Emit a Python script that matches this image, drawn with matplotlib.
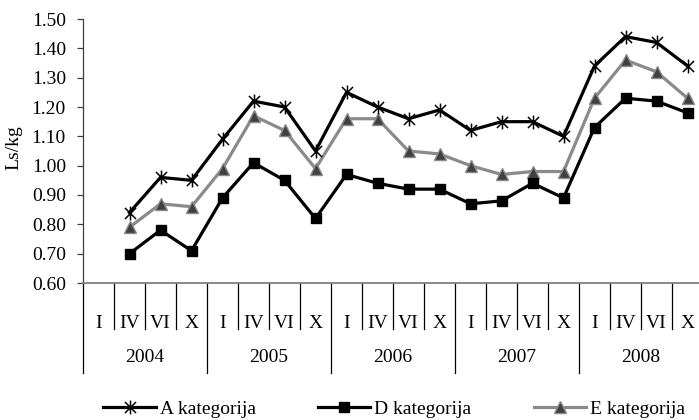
import numpy as np
import matplotlib
matplotlib.use("Agg")
import matplotlib.pyplot as plt
from matplotlib.path import Path
from matplotlib.lines import Line2D
import matplotlib.transforms as mtransforms

plt.rcParams['font.family'] = ['Liberation Serif', 'DejaVu Serif']

years = ['2004', '2005', '2006', '2007', '2008']
months = ['I', 'IV', 'VI', 'X']
nan = np.nan
A_kat = [nan, 0.84, 0.96, 0.95, 1.09, 1.22, 1.20, 1.05, 1.25, 1.20, 1.16, 1.19,
         1.12, 1.15, 1.15, 1.10, 1.34, 1.44, 1.42, 1.34]
D_kat = [nan, 0.70, 0.78, 0.71, 0.89, 1.01, 0.95, 0.82, 0.97, 0.94, 0.92, 0.92,
         0.87, 0.88, 0.94, 0.89, 1.13, 1.23, 1.22, 1.18]
E_kat = [nan, 0.79, 0.87, 0.86, 0.99, 1.17, 1.12, 0.99, 1.16, 1.16, 1.05, 1.04,
         1.00, 0.97, 0.98, 0.98, 1.23, 1.36, 1.32, 1.23]
y_ticks = [0.60, 0.70, 0.80, 0.90, 1.00, 1.10, 1.20, 1.30, 1.40, 1.50]

FS = 14
W, H = 699, 420
fig = plt.figure(figsize=(W / 100, H / 100), dpi=100)
left, right, top, bottom = 83, 703, 19, 283
ax = fig.add_axes([left / W, 1 - bottom / H, (right - left) / W, (bottom - top) / H])

n = len(years) * len(months)
x = np.arange(n) + 0.5

# custom asterisk marker: X plus vertical bar
ast = Path([(-1, -1), (1, 1), (-1, 1), (1, -1), (0, -1.25), (0, 1.25)],
           [Path.MOVETO, Path.LINETO, Path.MOVETO, Path.LINETO, Path.MOVETO, Path.LINETO])

lw = 2.3
lA, = ax.plot(x, A_kat, color='black', lw=lw, marker=ast, markersize=10,
              markeredgewidth=1.1, markerfacecolor='none', markeredgecolor='black',
              label='A kategorija', clip_on=False, zorder=5)
lD, = ax.plot(x, D_kat, color='black', lw=lw, marker='s', markersize=6.5,
              markerfacecolor='black', markeredgecolor='black',
              label='D kategorija', clip_on=False, zorder=4)
lE, = ax.plot(x, E_kat, color='#8a8a8a', lw=lw, marker='^', markersize=8,
              markerfacecolor='#404040', markeredgecolor='#8a8a8a', markeredgewidth=1,
              label='E kategorija', clip_on=False, zorder=3)

ax.set_xlim(0, n)
ax.set_ylim(0.6, 1.5)
ax.set_yticks(y_ticks)
ax.set_yticklabels([f'{v:.2f}' for v in y_ticks], fontsize=FS)
ax.tick_params(axis='y', direction='out', length=4.3, width=0.9, color='#404040', pad=8)
ax.set_xticks([])
for s in ['top', 'right']:
    ax.spines[s].set_visible(False)
ax.spines['left'].set_color('#404040')
ax.spines['left'].set_linewidth(0.9)
ax.spines['bottom'].set_color('#808080')
ax.spines['bottom'].set_linewidth(1.3)
ax.set_ylabel('Ls/kg', fontsize=FS)
ax.yaxis.set_label_coords(-0.097, 0.511)

# multi-level category axis
trans = mtransforms.blended_transform_factory(ax.transData, ax.transAxes)
ah = bottom - top
short_end = -(329 - bottom) / ah
long_end = -(373 - bottom) / ah
lab_y = -(323 - bottom) / ah
year_y = -(358 - bottom) / ah
for i in range(n + 1):
    end = long_end if i % len(months) == 0 else short_end
    ax.add_line(Line2D([i, i], [0, end], transform=trans, color='black', lw=0.9, clip_on=False))
for i in range(n):
    ax.text(x[i], lab_y, months[i % len(months)], transform=trans, ha='center', va='center', fontsize=FS)
for j, yr in enumerate(years):
    ax.text(j * len(months) + len(months) / 2, year_y, yr, transform=trans,
            ha='center', va='center', fontsize=FS)

fig.legend(handles=[lA, lD, lE], loc='center', bbox_to_anchor=(0.564, 1 - 409 / H),
           ncol=3, frameon=False, fontsize=FS, handlelength=2.7, handletextpad=0.2,
           columnspacing=3.2, borderaxespad=0)

fig.savefig('out.png', dpi=100)
